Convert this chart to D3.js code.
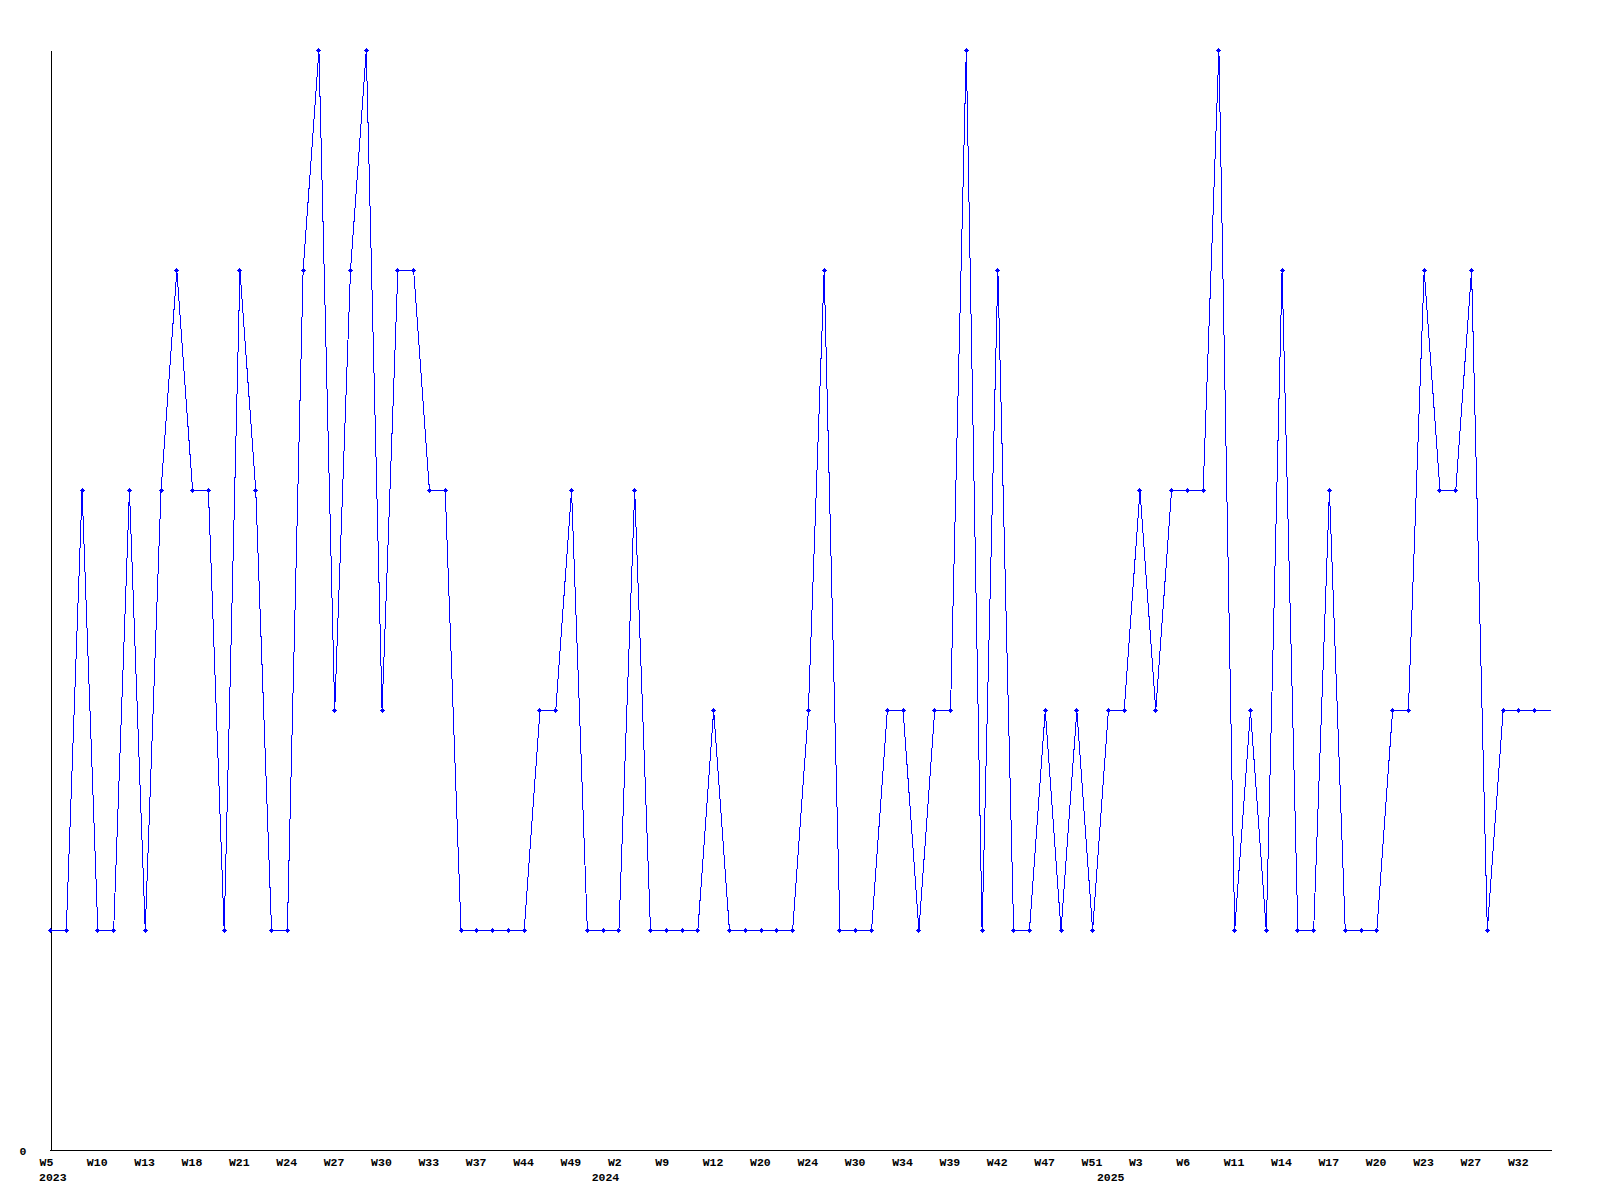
<!DOCTYPE html>
<html>
<head>
<meta charset="utf-8">
<script src="https://cdn.jsdelivr.net/npm/d3@7"></script>
<style>
  html, body { margin: 0; padding: 0; background: #ffffff; }
  svg { display: block; }
  text { font-family: "Liberation Mono", "DejaVu Sans Mono", monospace; font-weight: bold; font-size: 11.5px; fill: #000; }
</style>
</head>
<body>
<svg id="chart" width="1600" height="1200"></svg>
<script>
// ---- data ----
const weekYears = [
  2023,2023,2023,2023,2023,2023,2023,2023,2023,2023,2023,2023,2023,2023,2023,2023,2023,2023,
  2023,2023,2023,2023,2023,2023,2023,2023,2023,2023,2023,2023,2023,2023,2023,2023,2023,
  2024,2024,2024,2024,2024,2024,2024,2024,2024,2024,2024,2024,2024,2024,2024,2024,2024,
  2024,2024,2024,2024,2024,2024,2024,2024,2024,2024,2024,2024,2024,2024,2024,
  2025,2025,2025,2025,2025,2025,2025,2025,2025,2025,2025,2025,2025,2025,2025,2025,2025,
  2025,2025,2025,2025,2025,2025,2025,2025,2025,2025,2025,2025
];
const weekNumbers = [
  5,7,8,10,11,12,13,15,16,18,19,20,21,22,23,24,25,26,
  27,28,29,30,31,32,33,34,36,37,39,42,44,46,47,49,51,
  1,2,4,7,9,10,11,12,15,18,20,22,23,24,26,28,30,
  31,33,34,36,38,39,40,41,42,44,45,47,49,50,51,
  1,2,3,4,5,6,8,9,11,12,13,14,15,16,17,18,19,
  20,21,22,23,25,26,27,29,30,32,33,34
];
const values = [
  1,1,3,1,1,3,1,3,4,3,3,1,4,3,1,1,4,5,
  2,4,5,2,4,4,3,3,1,1,1,1,1,2,2,3,1,
  1,1,3,1,1,1,1,2,1,1,1,1,1,2,4,1,1,
  1,2,2,1,2,2,5,1,4,1,1,2,1,2,1,
  2,2,3,2,3,3,3,5,1,2,1,4,1,1,3,1,1,
  1,2,2,4,3,3,4,1,2,2,2,2
];
// labelled ticks on the x axis (year-week keys)
const tickKeys = [
  "2023-W5","2023-W10","2023-W13","2023-W18","2023-W21","2023-W24","2023-W27","2023-W30",
  "2023-W33","2023-W37","2023-W44","2023-W49","2024-W2","2024-W9","2024-W12","2024-W20",
  "2024-W24","2024-W30","2024-W34","2024-W39","2024-W42","2024-W47","2024-W51","2025-W3",
  "2025-W6","2025-W11","2025-W14","2025-W17","2025-W20","2025-W23","2025-W27","2025-W32"
];
const yTickValues = [0];

// ---- chart ----
const keys = weekYears.map((yr, i) => yr + "-W" + weekNumbers[i]);
const data = keys.map((k, i) => ({ key: k, year: weekYears[i], value: values[i] }));

const svg = d3.select("#chart");
svg.append("rect").attr("width", 1600).attr("height", 1200).attr("fill", "#ffffff");

const x = d3.scalePoint().domain(keys).range([50, 1550]);
const y = d3.scaleLinear().domain([0, 5]).range([1150, 50]);

// x axis
const xAxis = svg.append("g")
  .attr("transform", "translate(0.5,1150.5)")
  .call(d3.axisBottom(x).tickValues(tickKeys).tickSize(0).tickSizeOuter(0)
        .tickFormat(k => k.split("-")[1]));
xAxis.select(".domain").attr("stroke", "#000").attr("shape-rendering", "crispEdges")
  .attr("d", "M49.5,0H1551");
xAxis.selectAll(".tick text")
  .attr("text-anchor", "start").attr("x", -11.5).attr("y", 15.5).attr("dy", null)
  .attr("font-family", null).attr("font-size", null);

// year labels at first week of each year
const firstOfYear = d3.groups(data, d => d.year).map(([yr, arr]) => ({ year: yr, key: arr[0].key }));
svg.append("g").selectAll("text").data(firstOfYear).join("text")
  .attr("x", d => x(d.key) - 11)
  .attr("y", 1181)
  .attr("text-anchor", "start")
  .text(d => d.year);

// y axis
const yAxis = svg.append("g")
  .attr("transform", "translate(50.5,0.5)")
  .call(d3.axisLeft(y).tickValues(yTickValues).tickSize(0).tickSizeOuter(0).tickFormat(d3.format("d")));
yAxis.select(".domain").attr("stroke", "#000").attr("shape-rendering", "crispEdges");
yAxis.selectAll(".tick text")
  .attr("x", -24).attr("dy", "0.35em")
  .attr("font-family", null).attr("font-size", null);

// line
const line = d3.line().x(d => x(d.key)).y(d => y(d.value));
svg.append("path")
  .datum(data)
  .attr("fill", "none")
  .attr("stroke", "#0000ff")
  .attr("stroke-width", 1)
  .attr("shape-rendering", "crispEdges")
  .attr("transform", "translate(0.5,0.5)")
  .attr("d", line);

// markers (the last, still-open week has none)
svg.append("g").selectAll("g").data(data.slice(0, -1)).join("g")
  .attr("transform", d => `translate(${Math.round(x(d.key))},${Math.round(y(d.value))})`)
  .call(g => {
    g.append("rect").attr("x", -1).attr("y", -1).attr("width", 3).attr("height", 3)
      .attr("fill", "#0000ff").attr("shape-rendering", "crispEdges");
    g.append("rect").attr("x", -2).attr("y", 0).attr("width", 5).attr("height", 1)
      .attr("fill", "#0000ff").attr("shape-rendering", "crispEdges");
    g.append("rect").attr("x", 0).attr("y", -2).attr("width", 1).attr("height", 5)
      .attr("fill", "#0000ff").attr("shape-rendering", "crispEdges");
  });
</script>
</body>
</html>
